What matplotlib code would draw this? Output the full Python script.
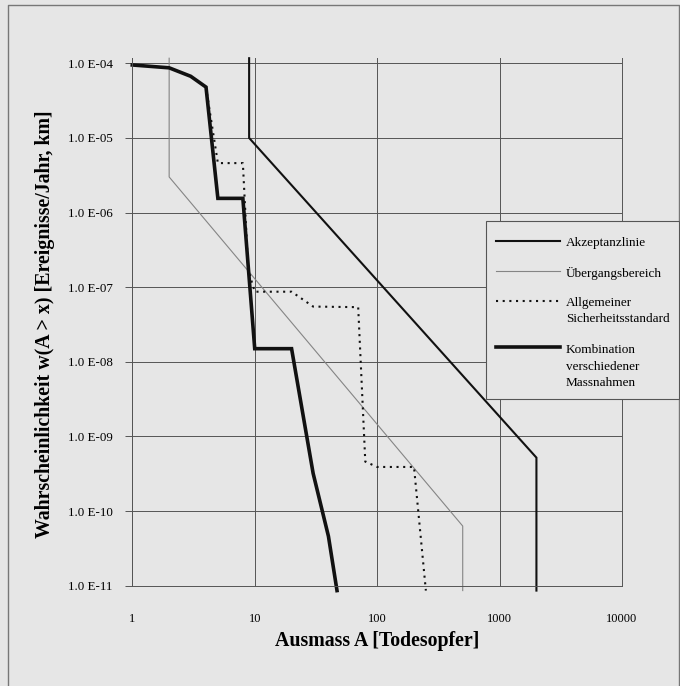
import matplotlib.pyplot as plt
from matplotlib.lines import Line2D
from matplotlib.patches import Rectangle

plt.rcParams['font.family'] = ['Liberation Serif', 'DejaVu Serif']

# curves
akz_x = [9, 9, 2000, 2000]
akz_y = [1.17e-4, 1e-5, 5.2e-10, 8.6e-12]
ueb_x = [2, 2, 500, 500]
ueb_y = [1.17e-4, 3.0e-6, 6.3e-11, 8.6e-12]
allg_x = [4, 5, 8, 8.85, 10, 20, 30, 70, 80, 100, 200, 250]
allg_y = [4.8e-5, 4.6e-6, 4.6e-6, 1.7e-7, 8.7e-8, 8.7e-8, 5.5e-8, 5.4e-8,
          4.6e-10, 3.9e-10, 3.9e-10, 8.6e-12]
komb_x = [1, 2, 3, 4, 5, 8, 10, 20, 30, 40, 47]
komb_y = [9.5e-5, 8.7e-5, 6.7e-5, 4.8e-5, 1.55e-6, 1.55e-6, 1.5e-8, 1.5e-8,
          3.2e-10, 4.6e-11, 8.6e-12]

x_ticks = [1, 10, 100, 1000, 10000]
x_labels = ['1', '10', '100', '1000', '10000']
y_ticks = [1e-4, 1e-5, 1e-6, 1e-7, 1e-8, 1e-9, 1e-10, 1e-11]
y_labels = ['1.0 E-04', '1.0 E-05', '1.0 E-06', '1.0 E-07',
            '1.0 E-08', '1.0 E-09', '1.0 E-10', '1.0 E-11']
leg_labels = ['Akzeptanzlinie', 'Übergangsbereich',
              'Allgemeiner\nSicherheitsstandard',
              'Kombination\nverschiedener\nMassnahmen']

W, H = 680, 686
bg = '#e6e6e6'
gc = '#555555'


def fx(px):
    return px / W


def fy(py):
    return 1 - py / H


fig = plt.figure(figsize=(6.8, 6.86), dpi=100, facecolor=bg)
ax = fig.add_axes([fx(132.3), fy(585.7), fx(622 - 132.3), (585.7 - 58) / H])
ax.set_facecolor(bg)
ax.set_xscale('log')
ax.set_yscale('log')
ax.set_xlim(1, 10000)
ax.set_ylim(1e-11, 1.178e-4)

ax.set_xticks(x_ticks)
ax.set_xticklabels(x_labels)
ax.set_yticks(y_ticks)
ax.set_yticklabels(y_labels)
ax.minorticks_off()
ax.tick_params(axis='x', length=0, pad=20, labelsize=9)
ax.tick_params(axis='y', length=5, width=0.7, color=gc, pad=9, labelsize=9.4)
ax.grid(True, color=gc, lw=0.7)
ax.set_axisbelow(True)
ax.spines['top'].set_visible(False)
for s in ['left', 'bottom', 'right']:
    ax.spines[s].set_color(gc)
    ax.spines[s].set_linewidth(0.7)

ax.plot(ueb_x, ueb_y, color='#858585', lw=0.8, clip_on=False)
ax.plot(akz_x, akz_y, color='#111111', lw=1.5, clip_on=False, solid_joinstyle='miter')
ax.plot(allg_x, allg_y, color='#111111', lw=1.5, ls=(0, (1, 2.2)), clip_on=False)
ax.plot(komb_x, komb_y, color='#111111', lw=2.6, clip_on=False, solid_joinstyle='miter')

ax.set_xlabel('Ausmass A [Todesopfer]', fontsize=14.3, fontweight='bold')
ax.xaxis.set_label_coords(0.5, -0.105)
ax.xaxis.label.set_va('center')
ax.set_ylabel('Wahrscheinlichkeit w(A > x) [Ereignisse/Jahr, km]',
              fontsize=14.3, fontweight='bold')
ax.yaxis.set_label_coords((45 - 132.3) / 489.7, (585.7 - 324) / 527.7)
ax.yaxis.label.set_va('center')

# legend drawn by hand: handle beside first text line
fig.add_artist(Rectangle((fx(486), fy(399)), fx(679 - 486), (399 - 221) / H,
                         transform=fig.transFigure, facecolor=bg,
                         edgecolor=gc, lw=0.8, zorder=5))
styles = [dict(color='#111111', lw=1.5),
          dict(color='#858585', lw=0.8),
          dict(color='#111111', lw=1.5, ls=(0, (1, 2.2))),
          dict(color='#111111', lw=2.6)]
line_y = [241, 271, 301, 347]
text_y = [243, 273, 303, 350]
for lab, st, ly, ty in zip(leg_labels, styles, line_y, text_y):
    fig.add_artist(Line2D([fx(496), fx(560)], [fy(ly), fy(ly)],
                          transform=fig.transFigure, zorder=6, **st))
    for i, part in enumerate(lab.split('\n')):
        fig.text(fx(566), fy(ty + i * 16.5), part, fontsize=9.5,
                 va='center', ha='left', zorder=6)

# outer frame of the scanned page
fig.add_artist(Line2D([fx(8), fx(8), fx(679), fx(679)],
                      [0, fy(5), fy(5), 0], transform=fig.transFigure,
                      color='#777777', lw=1))

fig.savefig('out.png', dpi=100, facecolor=bg)
